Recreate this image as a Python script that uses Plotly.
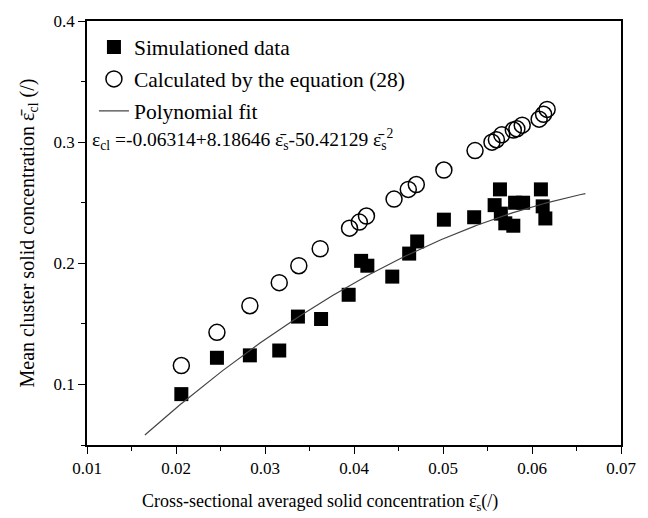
import numpy as np
import plotly.graph_objects as go

# Simulated data (filled squares)
sim_x = [0.0206, 0.0246, 0.0283, 0.0316, 0.0337, 0.0363, 0.0394, 0.0408, 0.0415, 0.0443,
         0.0462, 0.0471, 0.0501, 0.0535, 0.0558, 0.0564, 0.0565, 0.0570, 0.0579, 0.0581,
         0.0590, 0.0610, 0.0612, 0.0615]
sim_y = [0.092, 0.122, 0.124, 0.128, 0.156, 0.154, 0.174, 0.202, 0.198, 0.189,
         0.208, 0.218, 0.236, 0.238, 0.248, 0.261, 0.241, 0.233, 0.231, 0.250,
         0.250, 0.261, 0.247, 0.237]

# Calculated by equation (28) (open circles)
calc_x = [0.0206, 0.0246, 0.0283, 0.0316, 0.0338, 0.0362, 0.0395, 0.0406, 0.0414, 0.0445,
          0.0461, 0.0470, 0.0501, 0.0536, 0.0555, 0.0560, 0.0566, 0.0579, 0.0583, 0.0589,
          0.0608, 0.0613, 0.0617]
calc_y = [0.1156, 0.143, 0.165, 0.184, 0.198, 0.212, 0.229, 0.234, 0.239, 0.253,
          0.261, 0.265, 0.277, 0.293, 0.300, 0.302, 0.306, 0.310, 0.311, 0.314,
          0.319, 0.323, 0.327]

# Polynomial fit coefficients and range
fit_coef = [-0.06314, 8.18646, -50.42129]
fit_range = [0.0165, 0.066]

fit_x = np.linspace(fit_range[0], fit_range[1], 200)
fit_y = fit_coef[0] + fit_coef[1] * fit_x + fit_coef[2] * fit_x ** 2

FONT = "Liberation Serif"

fig = go.Figure()
fig.add_trace(go.Scatter(
    x=sim_x, y=sim_y, mode="markers", name="Simulationed data",
    marker=dict(symbol="square", size=14, color="black", line=dict(width=0)),
    legendgroup="a"))
fig.add_trace(go.Scatter(
    x=calc_x, y=calc_y, mode="markers", name="Calculated by the equation (28)",
    marker=dict(symbol="circle-open", size=16, color="black", line=dict(width=1.5)),
    legendgroup="b"))
fig.add_trace(go.Scatter(
    x=fit_x, y=fit_y, mode="lines", name="Polynomial fit",
    line=dict(color="#444444", width=1.2),
    legendgroup="c"))

axis_common = dict(
    showline=True, linecolor="black", linewidth=1.5, mirror=True,
    ticks="outside", ticklen=7, tickwidth=1.3, tickcolor="black",
    showgrid=False, zeroline=False,
    tickfont=dict(family=FONT, size=17, color="black"),
)

fig.update_layout(
    width=648, height=518,
    margin=dict(l=87, r=16, t=18, b=73),
    plot_bgcolor="white", paper_bgcolor="white",
    font=dict(family=FONT, color="black"),
    xaxis=dict(range=[0.01, 0.07], dtick=0.01, tickformat=".2f",
               minor=dict(dtick=0.005, ticks="outside", ticklen=4, tickcolor="black"),
               **axis_common),
    yaxis=dict(range=[0.05, 0.4], tickvals=[0.1, 0.2, 0.3, 0.4],
               minor=dict(tickvals=[0.05, 0.15, 0.25, 0.35], ticks="outside", ticklen=4, tickcolor="black"),
               title=dict(text="Mean cluster solid concentration ε\u0304<sub>cl</sub> (/)",
                          font=dict(family=FONT, size=20), standoff=14),
               **axis_common),
    legend=dict(x=0.013, y=0.987, xanchor="left", yanchor="top",
                font=dict(family=FONT, size=21.5), bgcolor="rgba(0,0,0,0)",
                tracegroupgap=1, itemwidth=30),
    showlegend=True,
)

fig.add_annotation(
    xref="paper", yref="paper", x=0.437, y=-0.136, xanchor="center", yanchor="middle",
    text="Cross-sectional averaged solid concentration ε\u0304<sub>s</sub>(/)",
    showarrow=False, font=dict(family=FONT, size=18, color="black"))

fig.add_annotation(
    xref="paper", yref="paper", x=0.006, y=0.721, xanchor="left", yanchor="middle",
    text="ε<sub>cl</sub> =-0.06314+8.18646 ε\u0304<sub>s</sub>-50.42129 ε\u0304<sub>s</sub><sup>2</sup>",
    showarrow=False, font=dict(family=FONT, size=19.5, color="black"))

fig.write_html("out.html")
